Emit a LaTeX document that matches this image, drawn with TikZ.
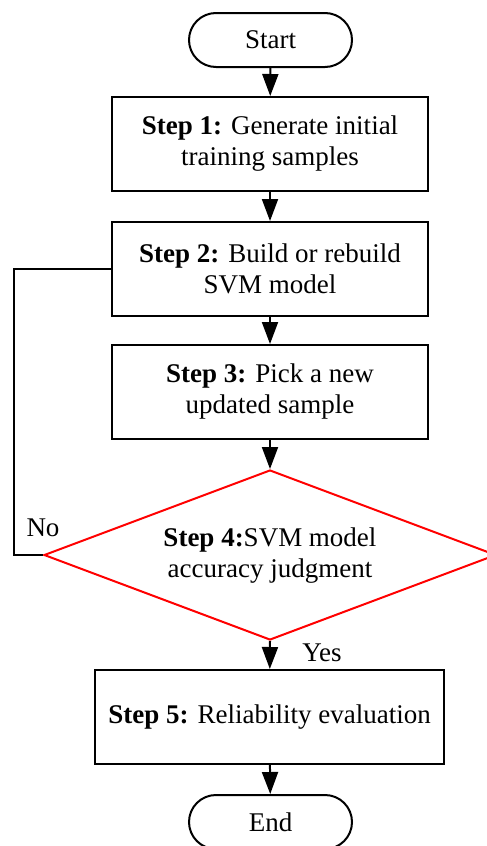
\documentclass[tikz,border=0pt]{standalone}
\usepackage{fontspec}
\setmainfont{Liberation Serif}
\usetikzlibrary{shapes.geometric,shapes.misc,arrows.meta}
\begin{document}
\begin{tikzpicture}[x=1pt,y=-1pt,
  every node/.style={font=\fontsize{27}{31}\selectfont},
  term/.style={draw,line width=2pt,rounded rectangle,minimum width=163pt,minimum height=54pt,inner sep=0pt},
  stepbox/.style={draw,line width=2pt,rectangle,minimum width=316pt,minimum height=94pt,inner sep=0pt,align=center},
  decision/.style={draw=red,line width=2pt,diamond,aspect=2.6,minimum width=452pt,minimum height=170pt,inner sep=0pt,align=center},
  flow/.style={line width=2pt,-{Triangle[length=22pt,width=16pt]}},
  loop/.style={line width=2pt}]
\useasboundingbox (0,0) rectangle (487,846);
\node[term] (start) at (270.5,40) {Start};
\node[stepbox] (b1) at (270,144) {\textbf{Step 1:} Generate initial\\training samples};
\node[stepbox] (b2) at (270,269) {\textbf{Step 2:} Build or rebuild\\SVM model};
\node[stepbox] (b3) at (270,392) {\textbf{Step 3:} Pick a new\\updated sample};
\node[decision] (d) at (270,555) {};
\node (dt) at (270,556) [align=center] {\textbf{Step 4:}SVM model\\accuracy judgment};
\node[stepbox,minimum width=349pt] (b5) at (269.5,717) {\textbf{Step 5:} Reliability evaluation};
\node[term] (end) at (270.5,822) {End};
\draw[flow] (start) -- (b1);
\draw[flow] (b1) -- (b2);
\draw[flow] (b2) -- (b3);
\draw[flow] (b3) -- (d.north);
\draw[flow] (d.south) -- (b5);
\draw[flow] (b5) -- (end);
\coordinate (cl) at (14,555);
\draw[loop] (d.west) -- (cl) |- (b2.west);
\node (no) at (43,528) {No};
\node (yes) at (322,653) {Yes};
\end{tikzpicture}
\end{document}
